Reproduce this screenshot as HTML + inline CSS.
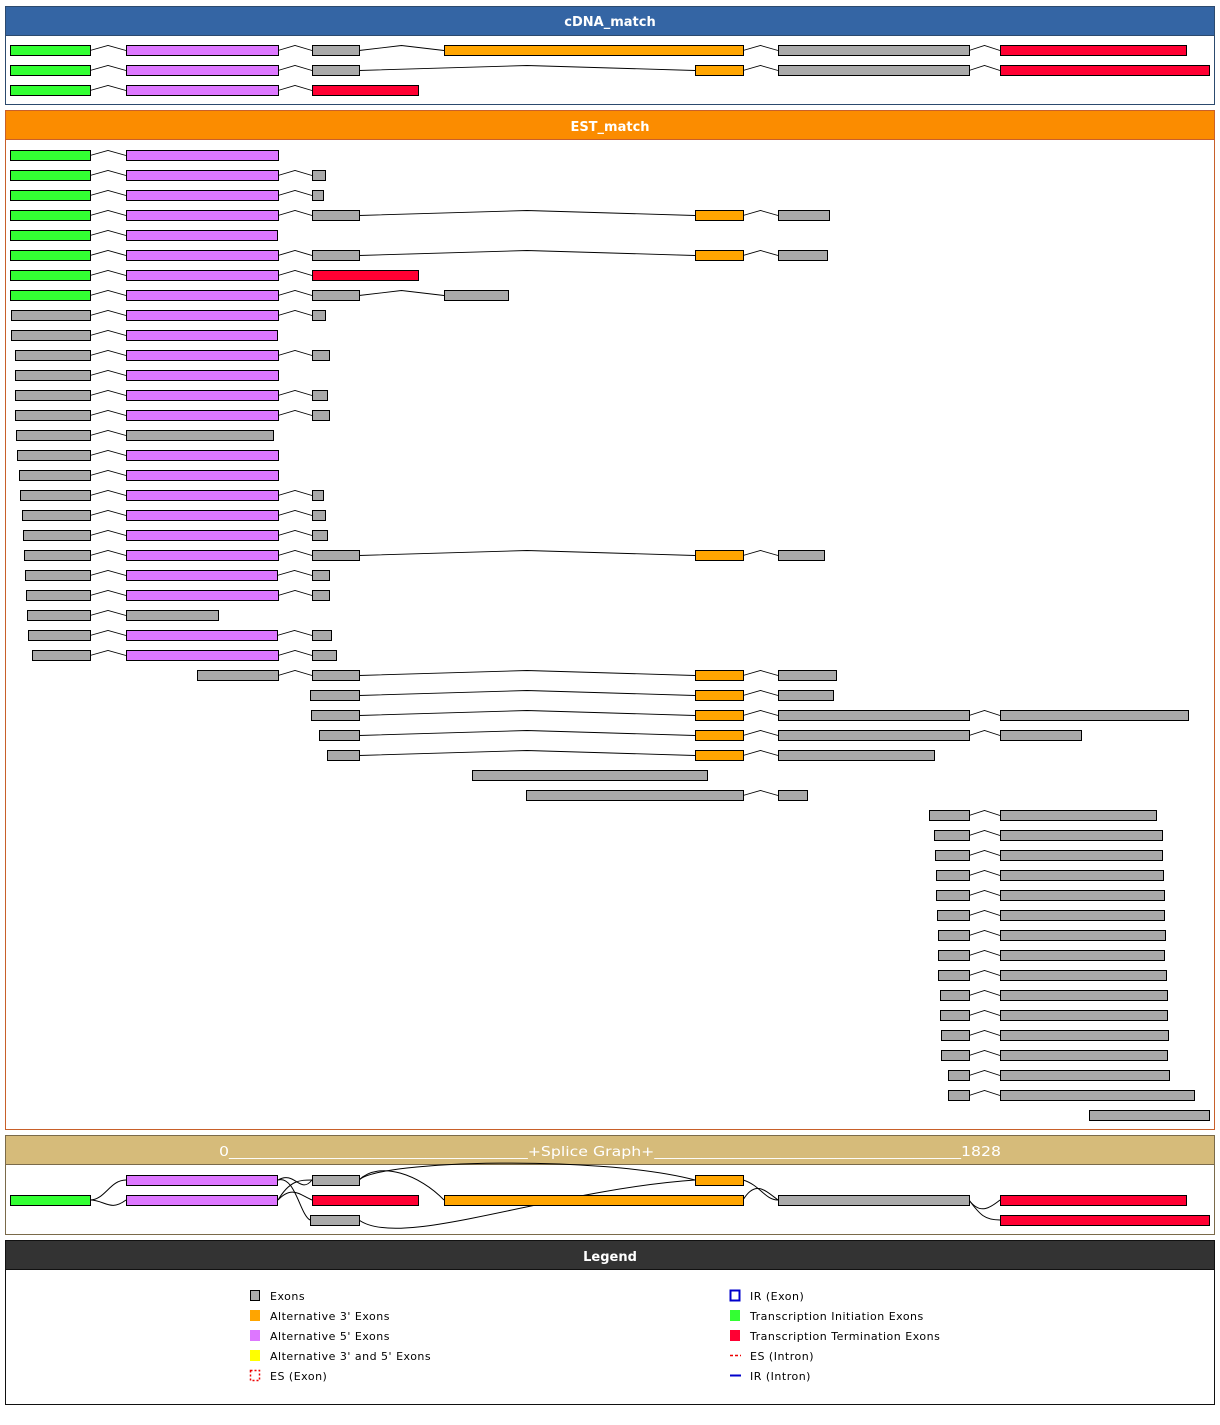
<!DOCTYPE html>
<html><head><meta charset="utf-8">
<style>
html,body{margin:0;padding:0;background:#fff;width:1220px;height:1425px;overflow:hidden}
svg{display:block}
text{font-family:"DejaVu Sans","Liberation Sans",sans-serif}
</style></head><body>
<svg id="s" width="1220" height="1425" xmlns="http://www.w3.org/2000/svg">
<rect x="5.5" y="6.5" width="1209" height="98" fill="#fff" stroke="#2c4a6e"/>
<rect x="5.5" y="6.5" width="1209" height="29" fill="#3465a4" stroke="#2c4a6e"/>
<text x="610" y="26" fill="#fff" font-size="13" font-weight="bold" text-anchor="middle">cDNA_match</text>
<rect x="5.5" y="110.5" width="1209" height="1019" fill="#fff" stroke="#c8602a"/>
<rect x="5.5" y="110.5" width="1209" height="29" fill="#fb8c00" stroke="#c8602a"/>
<text x="610" y="131" fill="#fff" font-size="13" font-weight="bold" text-anchor="middle">EST_match</text>
<rect x="5.5" y="1135.5" width="1209" height="99" fill="#fff" stroke="#7a6a4a"/>
<rect x="5.5" y="1135.5" width="1209" height="29" fill="#d6bb7a" stroke="#7a6a4a"/>
<text x="219" y="1156" fill="#fff" font-size="13" textLength="782" lengthAdjust="spacingAndGlyphs">0______________________________________+Splice Graph+_______________________________________1828</text>
<rect x="5.5" y="1240.5" width="1209" height="164" fill="#fff" stroke="#111"/>
<rect x="5.5" y="1240.5" width="1209" height="29" fill="#333" stroke="#111"/>
<text x="610" y="1261" fill="#fff" font-size="13" font-weight="bold" text-anchor="middle">Legend</text>
<g id="g"></g>
<g fill="none" stroke="#000" stroke-width="1">
<path d="M90,1200 C105,1200 110,1180 126,1180"/>
<path d="M90,1200 C105,1200 110,1212 126,1200"/>
<path d="M278,1180 C295,1170 300,1195 312,1180"/>
<path d="M278,1180 C295,1175 300,1215 310,1220"/>
<path d="M278,1200 C290,1180 300,1180 312,1180"/>
<path d="M278,1200 C292,1185 300,1195 312,1200"/>
<path d="M359,1180 C380,1160 600,1155 695,1180"/>
<path d="M359,1180 C380,1160 420,1175 444,1200"/>
<path d="M359,1220 C400,1250 550,1190 695,1180"/>
<path d="M743,1180 C760,1185 765,1200 778,1200"/>
<path d="M743,1200 C755,1180 765,1190 778,1200"/>
<path d="M969,1200 C980,1215 990,1208 1000,1200"/>
<path d="M969,1200 C980,1215 985,1220 1000,1220"/>
</g>
<g stroke="#000" stroke-width="1">
<rect x="10.5" y="1195.5" width="80" height="10" fill="#33ff33"/>
<rect x="126.5" y="1175.5" width="151" height="10" fill="#dd77ff"/>
<rect x="126.5" y="1195.5" width="151" height="10" fill="#dd77ff"/>
<rect x="312.5" y="1175.5" width="47" height="10" fill="#aaaaaa"/>
<rect x="312.5" y="1195.5" width="106" height="10" fill="#ff0033"/>
<rect x="310.5" y="1215.5" width="49" height="10" fill="#aaaaaa"/>
<rect x="444.5" y="1195.5" width="299" height="10" fill="#ffa500"/>
<rect x="695.5" y="1175.5" width="48" height="10" fill="#ffa500"/>
<rect x="778.5" y="1195.5" width="191" height="10" fill="#aaaaaa"/>
<rect x="1000.5" y="1195.5" width="186" height="10" fill="#ff0033"/>
<rect x="1000.5" y="1215.5" width="209" height="10" fill="#ff0033"/>
</g>
<g font-size="11" fill="#000" letter-spacing="0.5">
<rect x="250.5" y="1290.5" width="9" height="10" fill="#aaa" stroke="#000"/><text x="270" y="1300">Exons</text>
<rect x="250" y="1310" width="10" height="11" fill="#ffa500"/><text x="270" y="1320">Alternative 3' Exons</text>
<rect x="250" y="1330" width="10" height="11" fill="#dd77ff"/><text x="270" y="1340">Alternative 5' Exons</text>
<rect x="250" y="1350" width="10" height="11" fill="#ffff00"/><text x="270" y="1360">Alternative 3' and 5' Exons</text>
<rect x="250.5" y="1370.5" width="9" height="10" fill="none" stroke="#e00" stroke-dasharray="2,2" stroke-width="1.5"/><text x="270" y="1380">ES (Exon)</text>
<rect x="730.5" y="1290.5" width="9" height="10" fill="none" stroke="#00c" stroke-width="2"/><text x="750" y="1300">IR (Exon)</text>
<rect x="730" y="1310" width="10" height="11" fill="#33ff33"/><text x="750" y="1320">Transcription Initiation Exons</text>
<rect x="730" y="1330" width="10" height="11" fill="#ff0033"/><text x="750" y="1340">Transcription Termination Exons</text>
<line x1="730" y1="1355.5" x2="741" y2="1355.5" stroke="#e00" stroke-dasharray="3,2" stroke-width="1.5"/><text x="750" y="1360">ES (Intron)</text>
<line x1="730" y1="1375.5" x2="741" y2="1375.5" stroke="#00c" stroke-width="2"/><text x="750" y="1380">IR (Intron)</text>
</g>
</svg>
<script>
var C={G:"#33ff33",P:"#dd77ff",A:"#aaaaaa",O:"#ffa500",R:"#ff0033"};
var Gx=[10,90,"G"],Px=[126,278,"P"];
function A(a,b){return [a,b,"A"]}
function O(){return [695,743,"O"]}
var cdna=[
[Gx,Px,A(312,359),[444,743,"O"],A(778,969),[1000,1186,"R"]],
[Gx,Px,A(312,359),O(),A(778,969),[1000,1209,"R"]],
[Gx,Px,[312,418,"R"]]];
var est=[
[Gx,Px],
[Gx,Px,A(312,325)],
[Gx,Px,A(312,323)],
[Gx,Px,A(312,359),O(),A(778,829)],
[Gx,[126,277,"P"]],
[Gx,Px,A(312,359),O(),A(778,827)],
[Gx,Px,[312,418,"R"]],
[Gx,Px,A(312,359),A(444,508)],
[A(11,90),Px,A(312,325)],
[A(11,90),[126,277,"P"]],
[A(15,90),Px,A(312,329)],
[A(15,90),Px],
[A(15,90),Px,A(312,327)],
[A(15,90),Px,A(312,329)],
[A(16,90),A(126,273)],
[A(17,90),Px],
[A(19,90),Px],
[A(20,90),Px,A(312,323)],
[A(22,90),Px,A(312,325)],
[A(23,90),Px,A(312,327)],
[A(24,90),Px,A(312,359),O(),A(778,824)],
[A(25,90),[126,277,"P"],A(312,329)],
[A(26,90),Px,A(312,329)],
[A(27,90),A(126,218)],
[A(28,90),[126,277,"P"],A(312,331)],
[A(32,90),Px,A(312,336)],
[A(197,278),A(312,359),O(),A(778,836)],
[A(310,359),O(),A(778,833)],
[A(311,359),O(),A(778,969),A(1000,1188)],
[A(319,359),O(),A(778,969),A(1000,1081)],
[A(327,359),O(),A(778,934)],
[A(472,707)],
[A(526,743),A(778,807)],
[A(929,969),A(1000,1156)],
[A(934,969),A(1000,1162)],
[A(935,969),A(1000,1162)],
[A(936,969),A(1000,1163)],
[A(936,969),A(1000,1164)],
[A(937,969),A(1000,1164)],
[A(938,969),A(1000,1165)],
[A(938,969),A(1000,1164)],
[A(938,969),A(1000,1166)],
[A(940,969),A(1000,1167)],
[A(940,969),A(1000,1167)],
[A(941,969),A(1000,1168)],
[A(941,969),A(1000,1167)],
[A(948,969),A(1000,1169)],
[A(948,969),A(1000,1194)],
[A(1089,1209)]];
var h="";
function row(r,y){
 for(var i=0;i<r.length-1;i++){
  var a=r[i][1],b=r[i+1][0],m=(a+b)/2;
  h+='<polyline points="'+a+','+(y+0.5)+' '+m+','+(y-4.5)+' '+b+','+(y+0.5)+'" fill="none" stroke="#000" stroke-width="0.9"/>';
 }
 r.forEach(function(e){
  h+='<rect x="'+(e[0]+0.5)+'" y="'+(y-4.5)+'" width="'+(e[1]-e[0])+'" height="10" fill="'+C[e[2]]+'" stroke="#000"/>';
 });
}
cdna.forEach(function(r,i){row(r,50+20*i)});
est.forEach(function(r,i){row(r,155+20*i)});
document.getElementById("g").innerHTML=h;
</script>
</body></html>
